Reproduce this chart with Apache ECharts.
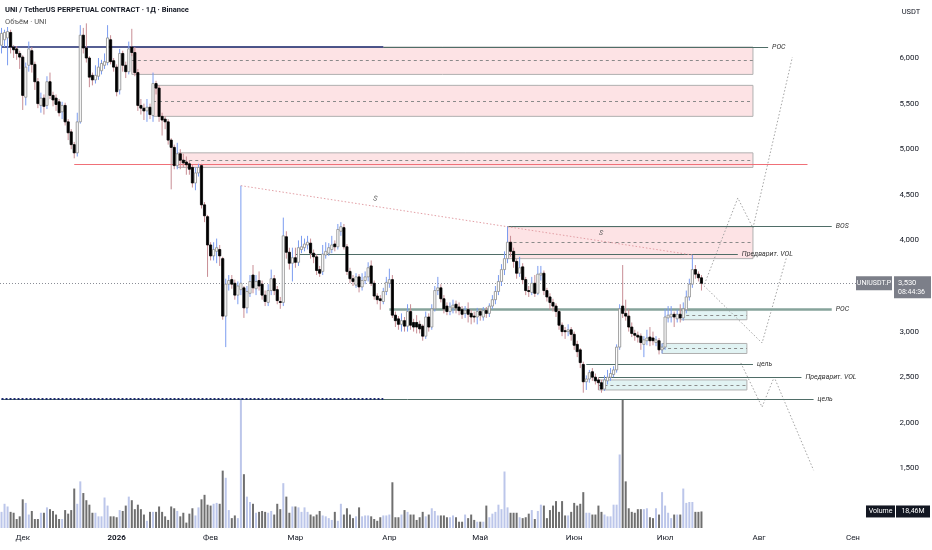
<!DOCTYPE html>
<html><head><meta charset="utf-8">
<script src="https://cdn.jsdelivr.net/npm/echarts@6/dist/echarts.min.js"></script>
<style>html,body{margin:0;padding:0;background:#fff}#c{width:932px;height:550px}</style>
</head><body><div id="c"></div>
<script>
// ---------- categories ----------
const startDate = '2025-11-24';
const categoryCount = 283;
const monthNames = ['', 'Фев', 'Мар', 'Апр', 'Май', 'Июн', 'Июл', 'Авг', 'Сен', 'Окт', 'Ноя', 'Дек'];

// ---------- candles [open, close, low, high] ----------
const candlesNov = [[6.14,6.27,6.05,6.33],[6.20,6.28,6.12,6.31],[6.22,6.29,5.92,6.34],[6.28,6.12,6.05,6.31],[6.12,6.09,6.00,6.14],[6.10,6.05,5.98,6.13],[6.05,6.01,5.88,6.08]];
const candlesDec = [[6.01,5.59,5.43,6.03],[5.57,5.90,5.48,5.95],[5.92,6.10,5.85,6.18],[6.08,5.93,5.84,6.12],[5.93,5.74,5.65,5.96],[5.74,5.50,5.45,5.78],[5.48,5.56,5.40,5.62],[5.56,5.47,5.38,5.60],[5.48,5.74,5.44,5.80],[5.74,5.59,5.55,5.84],[5.59,5.54,5.47,5.63],[5.56,5.49,5.42,5.60],[5.52,5.40,5.36,5.55],[5.41,5.48,5.33,5.52],[5.48,5.30,5.26,5.51],[5.30,5.18,5.10,5.33],[5.19,5.05,5.00,5.22],[5.05,4.96,4.90,5.08],[4.96,5.30,4.92,5.40],[5.30,6.25,5.28,6.36],[6.25,6.11,6.05,6.33],[6.11,6.00,5.95,6.38],[6.00,5.79,5.68,6.02],[5.81,5.76,5.70,5.84],[5.76,5.81,5.72,5.92],[5.80,5.90,5.76,6.00],[5.86,5.94,5.82,5.98],[5.92,5.96,5.88,6.05],[5.95,6.22,5.92,6.36],[6.20,5.96,5.93,6.25],[5.97,5.90,5.85,6.00]];
const candlesJan = [[5.90,5.63,5.58,5.93],[5.65,6.05,5.60,6.10],[6.05,5.92,5.85,6.08],[5.92,5.85,5.78,5.96],[5.85,6.10,5.82,6.18],[6.12,6.06,6.02,6.32],[6.06,5.84,5.80,6.12],[5.84,5.48,5.42,5.88],[5.48,5.45,5.38,5.55],[5.45,5.42,5.32,5.50],[5.42,5.46,5.30,5.55],[5.46,5.38,5.33,5.50],[5.37,5.72,5.30,5.84],[5.72,5.67,5.60,5.75],[5.67,5.36,5.30,5.70],[5.36,5.32,5.15,5.40],[5.33,5.30,5.22,5.36],[5.30,5.10,5.05,5.33],[5.10,5.02,4.56,5.12],[5.02,4.82,4.78,5.05],[4.82,4.95,4.78,5.07],[4.95,4.88,4.78,5.00],[4.88,4.85,4.80,4.95],[4.86,4.83,4.72,4.92],[4.84,4.78,4.72,4.88],[4.80,4.63,4.58,4.83],[4.63,4.74,4.55,4.80],[4.74,4.80,4.70,4.84],[4.82,4.39,4.35,4.84],[4.39,4.27,4.20,4.42],[4.26,3.95,3.60,4.28]];
const candlesFeb = [[3.95,3.83,3.78,3.98],[3.83,3.90,3.78,3.98],[3.88,3.92,3.75,4.02],[3.90,3.83,3.72,3.95],[3.80,3.17,3.13,3.82],[3.17,3.52,2.83,3.58],[3.52,3.56,3.45,3.62],[3.57,3.52,3.47,3.62],[3.53,3.40,3.35,3.57],[3.40,3.50,3.30,3.55],[3.46,3.53,3.40,4.60],[3.48,3.26,3.15,3.50],[3.26,3.44,3.20,3.50],[3.42,3.55,3.38,3.62],[3.62,3.48,3.42,3.73],[3.47,3.55,3.40,3.62],[3.56,3.50,3.45,3.66],[3.52,3.40,3.35,3.56],[3.40,3.33,3.28,3.45],[3.32,3.45,3.28,3.52],[3.45,3.58,3.40,3.68],[3.58,3.45,3.40,3.62],[3.46,3.34,3.30,3.50],[3.33,3.32,3.25,3.38],[3.32,4.05,3.28,4.25],[4.04,3.87,3.80,4.10],[3.87,3.75,3.68,3.92],[3.75,3.81,3.55,3.92]];
const candlesMar = [[3.81,3.76,3.70,3.92],[3.76,3.92,3.72,4.00],[3.90,3.93,3.86,4.05],[3.92,3.96,3.88,4.02],[3.95,3.98,3.90,4.05],[3.97,3.86,3.80,4.02],[3.86,3.82,3.75,3.90],[3.82,3.67,3.62,3.85],[3.68,3.64,3.60,3.72],[3.66,3.85,3.62,3.95],[3.84,3.88,3.80,3.98],[3.86,3.92,3.83,3.97],[3.90,3.95,3.86,4.05],[3.96,3.93,3.88,4.00],[3.93,4.12,3.90,4.18],[4.10,4.15,4.05,4.20],[4.14,3.93,3.90,4.18],[3.93,3.66,3.62,3.96],[3.66,3.58,3.53,3.70],[3.58,3.55,3.50,3.62],[3.51,3.60,3.48,3.64],[3.60,3.49,3.43,3.63],[3.49,3.56,3.45,3.64],[3.56,3.60,3.52,3.66],[3.60,3.70,3.55,3.76],[3.72,3.53,3.50,3.78],[3.53,3.39,3.35,3.56],[3.39,3.35,3.30,3.42],[3.36,3.34,3.24,3.40],[3.33,3.44,3.30,3.48],[3.44,3.54,3.40,3.60]];
const candlesApr = [[3.53,3.57,3.48,3.69],[3.57,3.18,3.15,3.62],[3.18,3.12,3.05,3.22],[3.14,3.08,3.02,3.17],[3.08,3.12,3.00,3.20],[3.12,3.06,3.00,3.16],[3.06,3.22,3.00,3.30],[3.22,3.07,3.02,3.30],[3.10,3.05,3.00,3.14],[3.10,3.05,2.98,3.18],[3.08,3.03,2.98,3.12],[3.06,2.95,2.90,3.08],[2.95,3.16,2.92,3.22],[3.16,3.05,3.00,3.20],[3.05,3.25,3.02,3.30],[3.25,3.45,3.22,3.50],[3.45,3.48,3.40,3.60],[3.48,3.36,3.32,3.52],[3.36,3.25,3.20,3.40],[3.28,3.22,3.18,3.32],[3.22,3.27,3.18,3.32],[3.26,3.29,3.20,3.35],[3.30,3.26,3.20,3.34],[3.27,3.23,3.18,3.32],[3.24,3.19,3.14,3.28],[3.20,3.23,3.15,3.28],[3.24,3.19,3.10,3.32],[3.20,3.16,3.08,3.24],[3.17,3.16,3.10,3.22],[3.16,3.22,3.08,3.26]];
const candlesMay = [[3.22,3.18,3.12,3.25],[3.16,3.23,3.12,3.27],[3.23,3.20,3.15,3.27],[3.20,3.28,3.16,3.31],[3.28,3.35,3.25,3.40],[3.35,3.44,3.30,3.50],[3.44,3.55,3.40,3.62],[3.55,3.68,3.50,3.74],[3.68,3.80,3.62,3.88],[3.80,3.98,3.75,4.15],[3.98,3.88,3.82,4.05],[3.88,3.77,3.70,3.92],[3.77,3.64,3.58,3.80],[3.64,3.70,3.60,3.82],[3.71,3.57,3.52,3.75],[3.57,3.45,3.40,3.60],[3.45,3.44,3.38,3.50],[3.43,3.53,3.40,3.60],[3.53,3.42,3.38,3.62],[3.42,3.63,3.40,3.72],[3.62,3.64,3.56,3.72],[3.64,3.45,3.40,3.67],[3.45,3.38,3.33,3.48],[3.38,3.32,3.24,3.42],[3.32,3.28,3.22,3.36],[3.28,3.22,3.16,3.31],[3.22,3.07,3.02,3.25],[3.07,3.00,2.95,3.10],[3.01,3.00,2.92,3.05],[3.00,3.02,2.95,3.08],[3.02,2.97,2.90,3.05]];
const candlesJun = [[2.97,2.85,2.80,3.00],[2.86,2.78,2.72,2.90],[2.80,2.66,2.60,2.82],[2.64,2.45,2.33,2.67],[2.45,2.48,2.36,2.52],[2.48,2.55,2.44,2.58],[2.56,2.50,2.46,2.60],[2.50,2.46,2.42,2.54],[2.47,2.44,2.36,2.50],[2.44,2.37,2.33,2.47],[2.37,2.47,2.35,2.52],[2.46,2.50,2.42,2.58],[2.50,2.54,2.46,2.60],[2.53,2.58,2.50,2.62],[2.58,2.83,2.55,2.86],[2.83,3.25,2.80,3.30],[3.28,3.20,3.15,3.73],[3.20,3.17,3.12,3.35],[3.17,3.05,3.00,3.25],[3.05,2.98,2.94,3.10],[2.98,2.96,2.90,3.02],[2.96,2.94,2.88,3.00],[2.95,2.88,2.80,2.98],[2.86,2.91,2.72,2.95],[2.90,2.93,2.85,3.02],[2.94,2.90,2.84,3.05],[2.93,2.90,2.85,3.00],[2.88,2.91,2.84,2.95],[2.90,2.80,2.75,2.93],[2.80,2.83,2.76,2.87]];
const candlesJul = [[2.83,3.16,2.80,3.25],[3.15,3.18,3.10,3.28],[3.16,3.19,3.10,3.28],[3.19,3.16,3.05,3.22],[3.14,3.19,3.10,3.24],[3.19,3.15,3.10,3.30],[3.15,3.25,3.12,3.32],[3.24,3.38,3.20,3.45],[3.38,3.52,3.34,3.58],[3.52,3.68,3.48,3.84],[3.68,3.63,3.58,3.73],[3.63,3.59,3.55,3.66],[3.59,3.53,3.45,3.62]];

// ---------- volume (millions) ----------
const volNov = [18,27,24,18,17,10,13];
const volDec = [32,28,15,19,10,10,17,17,23,21,19,15,10,10,20,16,20,44,27,52,39,31,26,17,17,13,13,34,25,13,13];
const volJan = [12,20,19,25,35,31,21,26,21,15,8,18,18,18,24,18,13,9,24,22,19,13,17,6,16,22,14,23,32,37,26];
const volFeb = [25,27,28,27,64,56,20,11,14,11,145,60,35,29,27,17,18,19,18,17,19,15,27,21,50,35,17,24];
const volMar = [24,23,18,23,18,15,13,15,19,14,13,11,9,18,8,27,15,22,15,11,13,23,13,14,14,13,10,8,12,14,14];
const volApr = [15,51,12,12,15,20,18,15,15,9,12,18,13,15,22,19,14,14,14,12,12,14,12,7,7,15,11,15,9,7];
const volMay = [7,7,25,12,16,18,26,21,63,23,17,17,17,12,11,12,16,20,10,19,26,25,11,20,25,30,18,30,14,14,18];
const volJun = [28,25,27,40,17,17,15,15,25,18,15,13,13,26,26,82,143,52,22,18,17,21,21,21,22,12,11,22,15,40];
const volJul = [25,17,11,15,15,15,44,28,29,29,18,18,18.46];

// ---------- price scale ----------
const priceMin = 1.0, priceMax = 6.5, priceStep = 0.5;
const volumeMax = 145;
const lastPrice = 3.53;
const lastPriceText = '3,530';
const countdownText = '08:44:36';
const lastVolumeText = '18,46M';

// ---------- annotations (category index, price) ----------
const zoneBoxes = [ // [fromIdx, toIdx, top, bottom, kind]
  [43, 248, 6.12, 5.82, 'supply'],
  [50, 248, 5.70, 5.36, 'supply'],
  [58, 248, 4.96, 4.80, 'supply'],
  [167, 248, 4.15, 3.80, 'supply'],
  [224, 246, 3.23, 3.13, 'demand'],
  [218, 246, 2.87, 2.76, 'demand'],
  [197, 246, 2.47, 2.36, 'demand']
];
const levelLines = [ // [fromIdx, toIdx, price, label, weight]
  [126, 253, 6.12, 'POC', 1],
  [97, 243, 3.85, 'Предварит. VOL', 1],
  [167, 274, 4.15, 'BOS', 1],
  [128, 274, 3.25, 'POC', 2.5],
  [193, 248, 2.64, 'цель', 1],
  [197, 264, 2.50, 'Предварит. VOL', 1],
  [0, 268, 2.26, 'цель', 1]
];
const navyLines = [[0, 126, 6.12, 'solid'], [0, 126, 2.26, 'dashed']];
const redLine = [24, 266, 4.84];
const sLines = [[79, 4.60, 167, 4.15], [167, 4.15, 228, 3.84]];
const pathUp = [[232, 3.52], [243, 4.465], [248, 4.136], [261, 6.01]];
const pathMid = [[231, 3.53], [251, 2.875], [259, 3.807]];
const pathDown = [[244, 2.656], [251, 2.173], [255, 2.502], [268, 1.48]];

// ---------- build ----------
const dates = [];
(function(){
  const d0 = new Date(startDate + 'T00:00:00Z');
  for (let i = 0; i < categoryCount; i++) {
    const d = new Date(d0.getTime() + i * 86400000);
    dates.push(d.toISOString().slice(0, 10));
  }
})();
const candleRows = [].concat(candlesNov, candlesDec, candlesJan, candlesFeb, candlesMar, candlesApr, candlesMay, candlesJun, candlesJul);
const volumes = [].concat(volNov, volDec, volJan, volFeb, volMar, volApr, volMay, volJun, volJul);
const candleData = candleRows.map((r, i) => [i, r[0], r[1], r[2], r[3]]);
const volumeData = volumes.map((v, i) => ({
  value: v,
  itemStyle: { color: candleRows[i][1] >= candleRows[i][0] ? '#bcc6ea' : '#6f6f6f' }
}));

const FONT = 'Roboto, "Liberation Sans", sans-serif';
const lvlColor = '#4f6d67';

function renderCandle(params, api) {
  const x = api.value(0);
  const o = api.value(1), c = api.value(2), l = api.value(3), h = api.value(4);
  const pO = api.coord([x, o]), pC = api.coord([x, c]);
  const pL = api.coord([x, l]), pH = api.coord([x, h]);
  const w = api.size([1, 0])[0] * 0.72;
  const up = c >= o;
  const top = Math.min(pO[1], pC[1]);
  const hgt = Math.max(Math.abs(pO[1] - pC[1]), 1);
  return {
    type: 'group',
    children: [
      { type: 'line', shape: { x1: pH[0], y1: pH[1], x2: pL[0], y2: pL[1] },
        style: { stroke: up ? '#7b9cf0' : '#c88d94', lineWidth: 1 } },
      { type: 'rect', shape: { x: pO[0] - w / 2, y: top, width: w, height: hgt },
        style: { fill: up ? '#ffffff' : '#000000', stroke: up ? '#8c8c8c' : '#000000', lineWidth: 0.8 } }
    ]
  };
}

const markAreaData = zoneBoxes.map(([a, b, t, bt, kind]) => [
  { coord: [dates[a], t], itemStyle: { color: kind === 'supply' ? '#fde3e5' : '#e1f3f3', borderColor: '#b0b0b0', borderWidth: 1 } },
  { coord: [dates[b], bt] }
]);

const markLineData = [];
zoneBoxes.forEach(([a, b, t, bt]) => {
  const m = (t + bt) / 2;
  markLineData.push([
    { coord: [dates[a], m], lineStyle: { color: '#8a8a8a', type: [3, 3], width: 1 }, label: { show: false } },
    { coord: [dates[b], m] }
  ]);
});
markLineData.push([
  { coord: [dates[redLine[0]], redLine[2]], lineStyle: { color: '#f07078', type: 'solid', width: 1 }, label: { show: false } },
  { coord: [dates[redLine[1]], redLine[2]] }
]);
levelLines.forEach(([a, b, p, txt, w]) => {
  markLineData.push([
    { coord: [dates[a], p],
      lineStyle: { color: w > 1 ? '#86a39b' : lvlColor, type: 'solid', width: w },
      label: { show: true, position: 'end', formatter: txt, fontSize: 7, fontStyle: 'italic', color: '#333', fontFamily: FONT, distance: 4 } },
    { coord: [dates[b], p] }
  ]);
});
navyLines.forEach(([a, b, p, kind]) => {
  markLineData.push([
    { coord: [dates[a], p], lineStyle: { color: '#1e2a70', type: kind === 'solid' ? 'solid' : [2, 2], width: kind === 'solid' ? 1.5 : 2 }, label: { show: false } },
    { coord: [dates[b], p] }
  ]);
});
sLines.forEach(([a, pa, b, pb]) => {
  markLineData.push([
    { coord: [dates[a], pa], lineStyle: { color: '#e3a0a6', type: [1.5, 2], width: 1 },
      label: { show: true, position: 'middle', formatter: 'S', fontSize: 7, fontStyle: 'italic', color: '#555', fontFamily: FONT, distance: 4 } },
    { coord: [dates[b], pb] }
  ]);
});
markLineData.push({ yAxis: lastPrice, lineStyle: { color: '#8a8d96', type: [1, 2], width: 1 }, label: { show: false } });

function pathSeries(pts, arrow) {
  const data = pts.map((p, i) => {
    if (arrow && i === pts.length - 1) {
      return { value: p, symbol: 'path://M0,10 L5,0 L10,10', symbolSize: [6, 5], symbolRotate: -13,
        itemStyle: { color: 'rgba(0,0,0,0)', borderColor: '#9a9a9a', borderWidth: 1 } };
    }
    return p;
  });
  return {
    type: 'line', xAxisIndex: 0, yAxisIndex: 0, data: data, symbol: 'none', showSymbol: true,
    lineStyle: { color: '#a4a4a4', type: [1.5, 2], width: 1 }, silent: true, z: 3
  };
}

const chart = echarts.init(document.getElementById('c'));
const option = {
  animation: false,
  backgroundColor: '#ffffff',
  grid: [
    { left: 0, right: 74.5, top: 12.4, bottom: 36 },
    { left: 0, right: 74.5, top: 398, bottom: 22 }
  ],
  xAxis: [
    { type: 'category', gridIndex: 0, data: dates, boundaryGap: true, show: false },
    { type: 'category', gridIndex: 1, data: dates, boundaryGap: true,
      axisLine: { show: false }, axisTick: { show: false }, splitLine: { show: false },
      axisLabel: {
        interval: (i, v) => v.slice(8) === '01',
        margin: 6, fontSize: 8, color: '#131722', fontFamily: FONT, hideOverlap: false,
        formatter: (v) => {
          const m = +v.slice(5, 7);
          if (m === 1) return '{y|' + v.slice(0, 4) + '}';
          return monthNames[m - 1];
        },
        rich: { y: { fontWeight: 'bold', fontSize: 8, color: '#131722', fontFamily: FONT } }
      } }
  ],
  yAxis: [
    { type: 'value', gridIndex: 0, position: 'right', min: priceMin, max: priceMax, interval: priceStep,
      axisLine: { show: false }, axisTick: { show: false }, splitLine: { show: false },
      axisLabel: { margin: 42, fontSize: 8, color: '#131722', fontFamily: FONT,
        formatter: (v) => (v < priceMin + 0.25 || v > priceMax - 0.25) ? '' : v.toFixed(3).replace('.', ',') } },
    { type: 'value', gridIndex: 1, min: 0, max: volumeMax, show: false }
  ],
  series: [
    { type: 'bar', xAxisIndex: 1, yAxisIndex: 1, data: volumeData, barWidth: 2, silent: true, z: 1 },
    { type: 'line', xAxisIndex: 0, yAxisIndex: 0, data: [], silent: true, z: 2,
      markArea: { silent: true, data: markAreaData },
      markLine: { silent: true, symbol: ['none', 'none'], data: markLineData } },
    { type: 'custom', xAxisIndex: 0, yAxisIndex: 0, data: candleData, renderItem: renderCandle,
      encode: { x: 0, y: [1, 2, 3, 4] }, silent: true, z: 5 },
    pathSeries(pathUp, true),
    pathSeries(pathMid, false),
    pathSeries(pathDown, false)
  ]
};
chart.setOption(option);

// overlay texts positioned from the library's scales
const py = chart.convertToPixel({ yAxisIndex: 0 }, lastPrice);
const vy = chart.convertToPixel({ yAxisIndex: 1 }, volumes[volumes.length - 1]);
const txt = (x, y, text, opt) => Object.assign({ type: 'text', x: x, y: y, z: 100,
  style: Object.assign({ text: text, fill: '#131722', fontSize: 8, fontFamily: FONT, align: 'left', verticalAlign: 'middle' }, opt || {}) });
chart.setOption({
  graphic: [
    txt(5, 10, 'UNI / TetherUS PERPETUAL CONTRACT · 1Д · Binance', { fontSize: 7.5, fontWeight: 'bold' }),
    txt(5, 22, 'Объём · UNI', { fontSize: 7.5, fill: '#555' }),
    txt(911, 12, 'USDT', { fontSize: 7.5, align: 'center' }),
    { type: 'rect', z: 100, shape: { x: 856, y: py - 7, width: 36, height: 14 }, style: { fill: '#7c7f89' } },
    txt(874, py, 'UNIUSDT.P', { fill: '#fff', fontSize: 7, align: 'center' }),
    { type: 'rect', z: 100, shape: { x: 894, y: py - 7, width: 37, height: 22 }, style: { fill: '#7c7f89' } },
    txt(898, py - 0.5, lastPriceText, { fill: '#fff', fontSize: 7.5 }),
    txt(898, py + 8.5, countdownText, { fill: '#fff', fontSize: 7 }),
    { type: 'rect', z: 100, shape: { x: 866, y: vy - 6, width: 29, height: 12 }, style: { fill: '#131722' } },
    txt(880.5, vy, 'Volume', { fill: '#fff', fontSize: 7, align: 'center' }),
    { type: 'rect', z: 100, shape: { x: 896, y: vy - 6, width: 34, height: 12 }, style: { fill: '#131722' } },
    txt(913, vy, lastVolumeText, { fill: '#fff', fontSize: 7, align: 'center' })
  ]
});
</script>
</body></html>
